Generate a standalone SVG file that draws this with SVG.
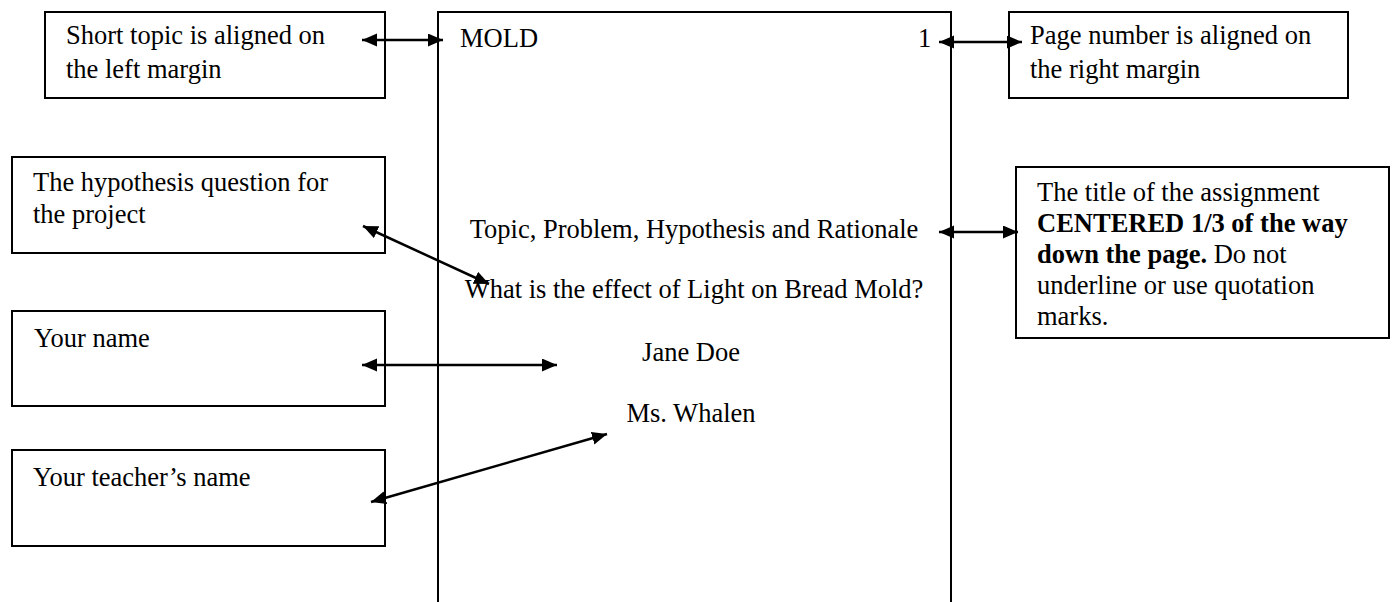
<svg xmlns="http://www.w3.org/2000/svg" width="1395" height="602" viewBox="0 0 1395 602">
<style>
.box{fill:#fff;stroke:#000;stroke-width:2}
.page{fill:none;stroke:#000;stroke-width:2}
.t{font-family:"Liberation Serif","Times New Roman",serif;font-size:26.5px;fill:#000}
.b{font-weight:bold}
.c{text-anchor:middle}
.arr{stroke:#000;stroke-width:2.5;fill:none;marker-start:url(#ah);marker-end:url(#ah)}
</style>
<defs>
<marker id="ah" markerUnits="userSpaceOnUse" markerWidth="16" markerHeight="14" refX="15" refY="6.5" orient="auto-start-reverse">
<path d="M0,0 L15,6.5 L0,13 z" fill="#000"/>
</marker>
</defs>
<g id="page">
<path class="page" d="M438,602 L438,12 L951,12 L951,602"/>
<text class="t" x="460" y="47">MOLD</text>
<text class="t" x="918" y="47">1</text>
<text class="t c" x="694" y="238">Topic, Problem, Hypothesis and Rationale</text>
<text class="t c" x="694" y="298">What is the effect of Light on Bread Mold?</text>
<text class="t c" x="691" y="361">Jane Doe</text>
<text class="t c" x="691" y="422">Ms. Whalen</text>
</g>
<g id="short-topic">
<rect class="box" x="45" y="12" width="340" height="86"/>
<text class="t" x="66" y="44">Short topic is aligned on</text>
<text class="t" x="66" y="78">the left margin</text>
</g>
<g id="page-number">
<rect class="box" x="1009" y="12" width="339" height="86"/>
<text class="t" x="1030" y="44">Page number is aligned on</text>
<text class="t" x="1030" y="78">the right margin</text>
</g>
<g id="hypothesis">
<rect class="box" x="12" y="157" width="373" height="96"/>
<text class="t" x="33" y="191">The hypothesis question for</text>
<text class="t" x="33" y="223">the project</text>
</g>
<g id="title-note">
<rect class="box" x="1016" y="167" width="373" height="171"/>
<text class="t" x="1037" y="201">The title of the assignment</text>
<text class="t b" x="1037" y="232">CENTERED 1/3 of the way</text>
<text class="t" x="1037" y="263"><tspan class="b">down the page.</tspan> Do not</text>
<text class="t" x="1037" y="294">underline or use quotation</text>
<text class="t" x="1037" y="325">marks.</text>
</g>
<g id="your-name">
<rect class="box" x="12" y="311" width="373" height="95"/>
<text class="t" x="34" y="347">Your name</text>
</g>
<g id="teacher-name">
<rect class="box" x="12" y="450" width="373" height="96"/>
<text class="t" x="33" y="486">Your teacher’s name</text>
</g>
<g id="connectors">
<line class="arr" x1="362" y1="40" x2="443" y2="40"/>
<line class="arr" x1="939" y1="42" x2="1022" y2="42"/>
<line class="arr" x1="939" y1="232" x2="1018" y2="232"/>
<line class="arr" x1="363" y1="226" x2="489" y2="284"/>
<line class="arr" x1="362" y1="365" x2="557" y2="365"/>
<line class="arr" x1="371" y1="502" x2="607" y2="434"/>
</g>
</svg>
